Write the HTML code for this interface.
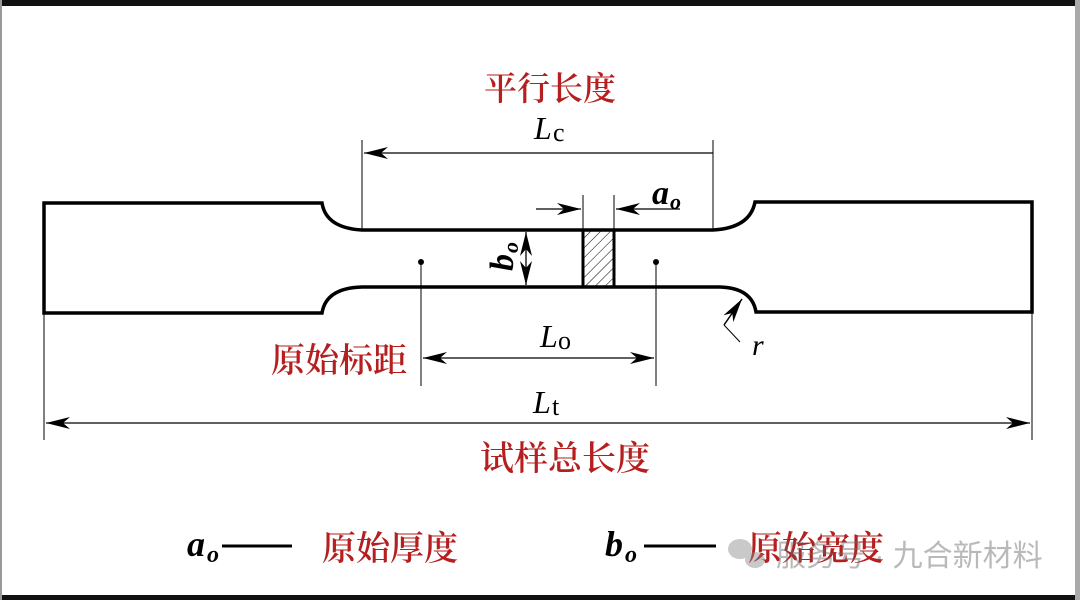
<!DOCTYPE html>
<html><head><meta charset="utf-8"><style>
html,body{margin:0;padding:0;background:#fff;}
svg{display:block}
.cn{font-family:"Liberation Serif","Noto Serif CJK SC",serif;fill:#b51f1f;font-weight:600;}
.it{font-family:"Liberation Serif",serif;font-style:italic;fill:#000;}
.rm{font-family:"Liberation Serif",serif;fill:#000;}
</style></head><body>
<svg width="1080" height="600" viewBox="0 0 1080 600" xmlns="http://www.w3.org/2000/svg">
<defs>
<marker id="ah" markerWidth="26" markerHeight="12" refX="24" refY="6" orient="auto" markerUnits="userSpaceOnUse">
<path d="M0,0 L24,6 L0,12 L7,6 Z" fill="#000"/></marker>
<pattern id="hat" width="7" height="7" patternUnits="userSpaceOnUse" patternTransform="rotate(45)">
<line x1="0" y1="0" x2="0" y2="7" stroke="#000" stroke-width="1"/></pattern>
</defs>
<rect x="0" y="0" width="1080" height="600" fill="#fff"/>
<rect x="0" y="0" width="1080" height="6" fill="#111"/>
<rect x="0" y="595" width="1080" height="5" fill="#111"/>
<rect x="0" y="0" width="2" height="600" fill="#999"/>
<rect x="1075" y="0" width="5" height="600" fill="#aaa"/>

<path d="M44,203 L322,203 Q326,228 362,230 L713,230 Q750,228 755,202 L1032,202 L1032,312 L756,312 Q752,288 720,287 L362,287 Q326,288 322,313 L44,313 Z" fill="none" stroke="#000" stroke-width="3.5" stroke-linejoin="miter"/>

<rect x="583" y="230" width="31" height="57" fill="url(#hat)" stroke="#000" stroke-width="3"/>

<line x1="362" y1="140" x2="362" y2="230" stroke="#000" stroke-width="1"/>
<line x1="713" y1="140" x2="713" y2="230" stroke="#000" stroke-width="1"/>
<line x1="713" y1="153" x2="364" y2="153" stroke="#000" stroke-width="1.3" marker-end="url(#ah)"/>
<text x="550" y="100" class="cn" font-size="33" text-anchor="middle">平行长度</text>
<text x="534" y="139" class="it" font-size="32">L</text><text x="553" y="141" class="rm" font-size="26">c</text>

<line x1="583" y1="195" x2="583" y2="230" stroke="#000" stroke-width="1"/>
<line x1="614" y1="195" x2="614" y2="230" stroke="#000" stroke-width="1"/>
<line x1="536" y1="209" x2="581" y2="209" stroke="#000" stroke-width="1.2" marker-end="url(#ah)"/>
<line x1="680" y1="209" x2="616" y2="209" stroke="#000" stroke-width="1.2" marker-end="url(#ah)"/>
<text x="652" y="204" class="it" font-size="34" font-weight="bold">a</text><text x="670" y="209" class="it" font-size="22" font-weight="bold">o</text>

<line x1="526" y1="258" x2="526" y2="232" stroke="#000" stroke-width="1.3" marker-end="url(#ah)"/>
<line x1="526" y1="258" x2="526" y2="285" stroke="#000" stroke-width="1.3" marker-end="url(#ah)"/>
<g transform="translate(513,271) rotate(-90)"><text x="0" y="0" class="it" font-size="34" font-weight="bold">b</text><text x="18" y="5" class="it" font-size="22" font-weight="bold">o</text></g>

<circle cx="421" cy="262" r="3" fill="#000"/>
<circle cx="656" cy="262" r="3" fill="#000"/>
<line x1="421" y1="262" x2="421" y2="386" stroke="#000" stroke-width="1"/>
<line x1="656" y1="262" x2="656" y2="386" stroke="#000" stroke-width="1"/>
<line x1="540" y1="358" x2="423" y2="358" stroke="#000" stroke-width="1.3" marker-end="url(#ah)"/>
<line x1="540" y1="358" x2="654" y2="358" stroke="#000" stroke-width="1.3" marker-end="url(#ah)"/>
<text x="540" y="347" class="it" font-size="32">L</text><text x="558" y="349" class="rm" font-size="26">o</text>
<text x="271" y="372" class="cn" font-size="34">原始标距</text>

<line x1="44" y1="313" x2="44" y2="440" stroke="#000" stroke-width="1"/>
<line x1="1032" y1="312" x2="1032" y2="440" stroke="#000" stroke-width="1"/>
<line x1="540" y1="423" x2="46" y2="423" stroke="#000" stroke-width="1.3" marker-end="url(#ah)"/>
<line x1="540" y1="423" x2="1030" y2="423" stroke="#000" stroke-width="1.3" marker-end="url(#ah)"/>
<text x="533" y="413" class="it" font-size="32">L</text><text x="552" y="415" class="rm" font-size="26">t</text>
<text x="565" y="470" class="cn" font-size="34" text-anchor="middle">试样总长度</text>

<polyline points="740,342 724,325" fill="none" stroke="#000" stroke-width="1"/>
<line x1="724" y1="325" x2="742" y2="299" stroke="#000" stroke-width="1.5" marker-end="url(#ah)"/>
<text x="752" y="355" class="it" font-size="30">r</text>

<text x="187" y="556" class="it" font-size="36" font-weight="bold">a</text><text x="207" y="562" class="it" font-size="24" font-weight="bold">o</text>
<line x1="222" y1="546" x2="292" y2="546" stroke="#000" stroke-width="3"/>
<text x="322" y="560" class="cn" font-size="34">原始厚度</text>
<text x="605" y="556" class="it" font-size="36" font-weight="bold">b</text><text x="625" y="562" class="it" font-size="24" font-weight="bold">o</text>
<line x1="644" y1="546" x2="716" y2="546" stroke="#000" stroke-width="3"/>
<text x="748" y="560" class="cn" font-size="34">原始宽度</text>
<g opacity="0.45">
<ellipse cx="740" cy="549" rx="12" ry="10" fill="#888"/>
<ellipse cx="755" cy="560" rx="10" ry="8" fill="#888"/>
<text x="776" y="566" font-family="Liberation Sans,'Noto Sans CJK SC',sans-serif" font-size="30" fill="#666">服务号 · 九合新材料</text>
</g>
</svg>
</body></html>
